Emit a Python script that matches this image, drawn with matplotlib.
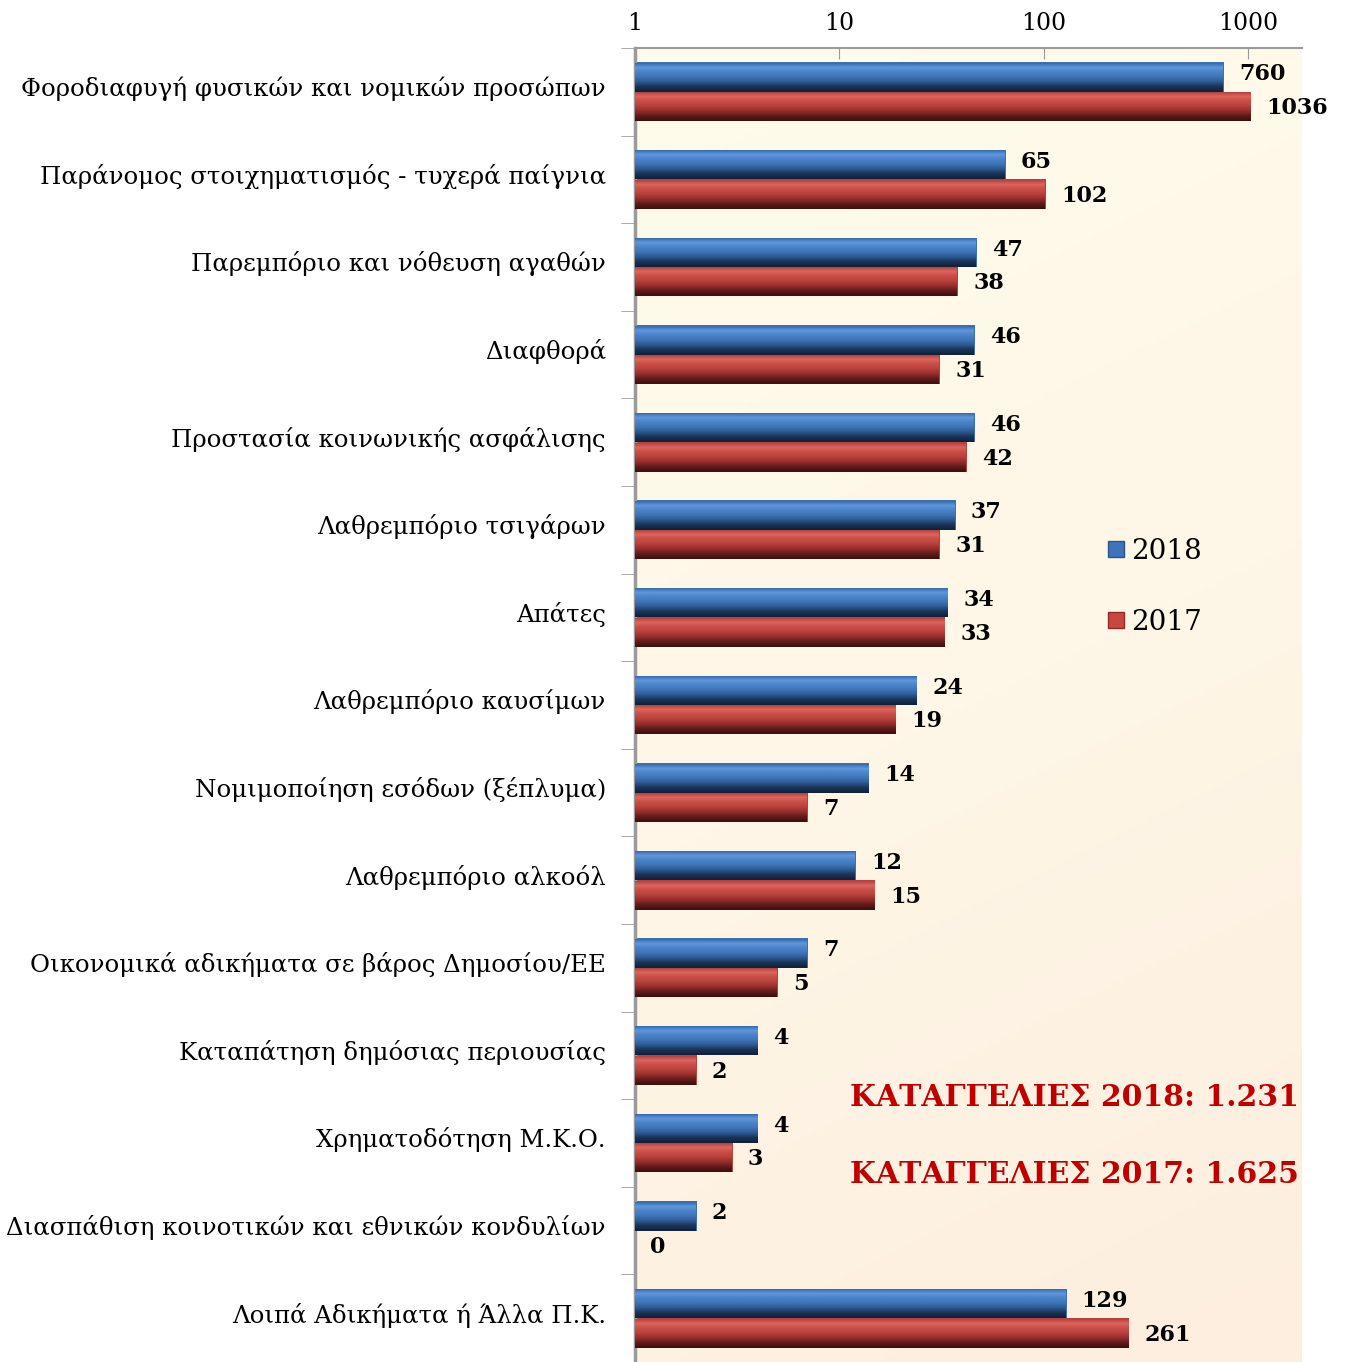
import numpy as np
import matplotlib.pyplot as plt
from matplotlib.colors import LinearSegmentedColormap
from matplotlib.lines import Line2D
from matplotlib.transforms import ScaledTranslation

categories = [
    'Φοροδιαφυγή φυσικών και νομικών προσώπων',
    'Παράνομος στοιχηματισμός - τυχερά παίγνια',
    'Παρεμπόριο και νόθευση αγαθών',
    'Διαφθορά',
    'Προστασία κοινωνικής ασφάλισης',
    'Λαθρεμπόριο τσιγάρων',
    'Απάτες',
    'Λαθρεμπόριο καυσίμων',
    'Νομιμοποίηση εσόδων (ξέπλυμα)',
    'Λαθρεμπόριο αλκοόλ',
    'Οικονομικά αδικήματα σε βάρος Δημοσίου/ΕΕ',
    'Καταπάτηση δημόσιας περιουσίας',
    'Χρηματοδότηση Μ.Κ.Ο.',
    'Διασπάθιση κοινοτικών και εθνικών κονδυλίων',
    'Λοιπά Αδικήματα ή Άλλα Π.Κ.',
]
values_2018 = [760, 65, 47, 46, 46, 37, 34, 24, 14, 12, 7, 4, 4, 2, 129]
values_2017 = [1036, 102, 38, 31, 42, 31, 33, 19, 7, 15, 5, 2, 3, 0, 261]
series_labels = ['2018', '2017']
totals = ['ΚΑΤΑΓΓΕΛΙΕΣ 2018: 1.231', 'ΚΑΤΑΓΓΕΛΙΕΣ 2017: 1.625']
xticks = [1, 10, 100, 1000]

serif = 'DejaVu Serif'

fig = plt.figure(figsize=(13.46, 13.62), dpi=100)
ax = fig.add_axes([635 / 1346, 0.0, 667 / 1346, (1362 - 48) / 1362])
ax.set_xscale('log')
ax.set_xlim(1, 1830)
ax.set_ylim(14.5, -0.5)

# background gradient: cream at top, peach lower down
bg = LinearSegmentedColormap.from_list('bg', ['#fffcec', '#fef6e6', '#fdeedf'])
grad = np.linspace(0, 1, 256).reshape(-1, 1)
grad = grad + 0.25 * np.linspace(0, 1, 256).reshape(1, -1)
ax.imshow(grad, extent=[0, 1, 0, 1], transform=ax.transAxes, cmap=bg,
          aspect='auto', origin='upper', zorder=0, vmin=0, vmax=1.25)

# top -> bottom shading of the bars
blue_cm = LinearSegmentedColormap.from_list('b', ['#2f62a4', '#5e96db', '#4b82c8', '#3f74b6', '#2d5a93', '#1a3558', '#10213a'])
red_cm = LinearSegmentedColormap.from_list('r', ['#a93d3a', '#de645e', '#c94e48', '#b8413d', '#952f2c', '#641c1a', '#3e0f0f'])

y = np.arange(len(categories))
h = 0.335
vgrad = np.linspace(0, 1, 64).reshape(-1, 1)

for vals, off, cm, base, dy in [(values_2018, -h / 2, blue_cm, '#3d70b0', -0.03),
                                (values_2017, h / 2, red_cm, '#b8403d', 0.02)]:
    v = np.array(vals, dtype=float)
    bars = ax.barh(y + off, np.where(v > 0, v - 1, np.nan), height=h, left=1,
                   color=base, zorder=2, linewidth=0)
    for b, val, yy in zip(bars, v, y + off):
        if val > 0:
            im = ax.imshow(vgrad, extent=[1, val, yy + h / 2, yy - h / 2],
                           cmap=cm, aspect='auto', origin='upper', zorder=3,
                           interpolation='bilinear')
            im.set_clip_path(b)
        ax.annotate(f'{int(val)}', (max(val, 1), yy + dy), xytext=(11, 0),
                    textcoords='offset points', ha='left', va='center',
                    fontsize=16, fontweight='bold', family=serif, zorder=4)

# axes styling
for s in ['right', 'bottom']:
    ax.spines[s].set_visible(False)
ax.spines['top'].set_color('#9a9a9a')
ax.spines['top'].set_linewidth(1.5)
ax.spines['left'].set_color('#9a9a9a')
ax.spines['left'].set_linewidth(2.5)

ax.xaxis.tick_top()
ax.set_xticks(xticks)
ax.set_xticklabels([str(t) for t in xticks], family=serif, fontsize=17)
ax.xaxis.set_minor_locator(plt.NullLocator())
ax.tick_params(axis='x', direction='in', length=8, color='#9a9a9a', pad=9)

ax.set_yticks(y)
ax.set_yticklabels(categories, family=serif, fontsize=17.6)
ax.set_yticks(np.arange(-0.5, len(categories)), minor=True)
ax.tick_params(axis='y', which='major', length=0, pad=21)
ax.tick_params(axis='y', which='minor', length=10, color='#9a9a9a', direction='out')
for lbl in ax.get_yticklabels():
    lbl.set_transform(lbl.get_transform() + ScaledTranslation(0, 4 / 72, fig.dpi_scale_trans))

handles = [Line2D([], [], marker='s', linestyle='none', markersize=12,
                  markerfacecolor='#3f74b8', markeredgecolor='#2a5590'),
           Line2D([], [], marker='s', linestyle='none', markersize=12,
                  markerfacecolor='#c8483f', markeredgecolor='#902a28')]
ax.legend(handles, series_labels, loc='center left', bbox_to_anchor=(0.663, 0.59),
          frameon=False, prop={'family': serif, 'size': 20}, labelspacing=1.6,
          handletextpad=0.05, handlelength=1.0)

for i, t in enumerate(totals):
    ax.text(0.995, 0.201 - i * 0.058, t, transform=ax.transAxes, ha='right',
            va='center', fontsize=21.5, fontweight='bold', family=serif,
            color='#c00000', zorder=5)

fig.savefig('out.png', dpi=100)
